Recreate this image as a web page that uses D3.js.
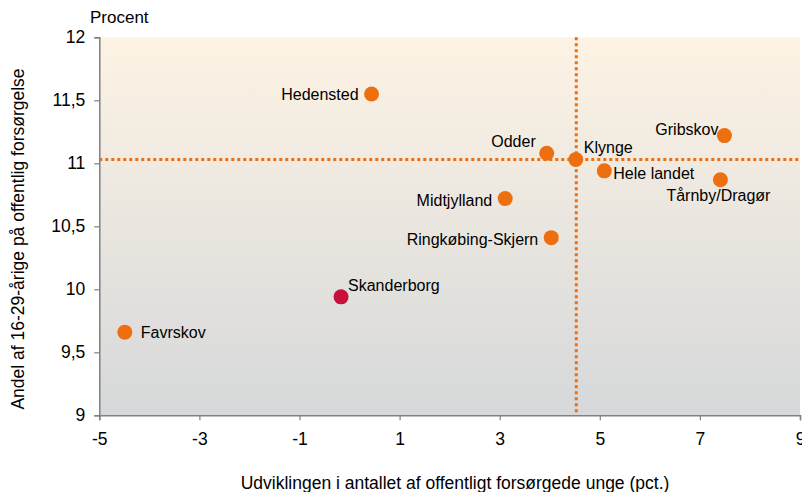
<!DOCTYPE html>
<html>
<head>
<meta charset="utf-8">
<script src="https://cdn.jsdelivr.net/npm/d3@7"></script>
<style>
  body { margin: 0; background: #fff; }
  svg text { font-family: Arial, "Liberation Sans", sans-serif; fill: #000; }
</style>
</head>
<body>
<svg id="chart" width="802" height="492"></svg>
<script>
// data
var names = ['Hedensted','Odder','Klynge','Hele landet','Gribskov','Tårnby/Dragør','Midtjylland','Ringkøbing-Skjern','Skanderborg','Favrskov'];
var xVals = [0.44, 3.94, 4.52, 5.09, 7.49, 7.41, 3.11, 4.03, -0.17, -4.49];
var yVals = [11.55, 11.08, 11.03, 10.94, 11.22, 10.87, 10.72, 10.41, 9.94, 9.66];
var highlight = ['Skanderborg'];
var refX = 4.53, refY = 11.03;
var xTicks = [-5, -3, -1, 1, 3, 5, 7, 9];
var yTicks = [9, 9.5, 10, 10.5, 11, 11.5, 12];

// label placement: [anchor, dx, dy]
var labelPos = {
  'Hedensted': ['end', -13, 6],
  'Odder': ['end', -11, -6],
  'Klynge': ['start', 8, -7],
  'Hele landet': ['start', 9, 8],
  'Gribskov': ['end', -6, -1],
  'Tårnby/Dragør': ['middle', -2, 21],
  'Midtjylland': ['end', -13, 7],
  'Ringkøbing-Skjern': ['end', -13, 7],
  'Skanderborg': ['start', 7, -6],
  'Favrskov': ['start', 16, 6]
};

var svg = d3.select('#chart');
var margin = {left: 99.3, top: 37.3, right: 800, bottom: 415.3};

var x = d3.scaleLinear().domain([-5, 9]).range([margin.left, margin.right]);
var y = d3.scaleLinear().domain([9, 12]).range([margin.bottom, margin.top]);

var defs = svg.append('defs');
var grad = defs.append('linearGradient').attr('id','bg').attr('x1',0).attr('y1',0).attr('x2',0).attr('y2',1);
grad.append('stop').attr('offset','0%').attr('stop-color','#fdf3e4');
grad.append('stop').attr('offset','100%').attr('stop-color','#d6d8da');

svg.append('rect')
  .attr('x', x(-5)).attr('y', y(12))
  .attr('width', x(9) - x(-5)).attr('height', y(9) - y(12))
  .attr('fill', 'url(#bg)');

// reference lines
svg.append('line')
  .attr('x1', x(-5)).attr('x2', x(9))
  .attr('y1', y(refY)).attr('y2', y(refY))
  .attr('stroke', '#ee6f0f').attr('stroke-width', 3).attr('stroke-dasharray', '3,3');
svg.append('line')
  .attr('x1', x(refX)).attr('x2', x(refX))
  .attr('y1', y(12)).attr('y2', y(9))
  .attr('stroke', '#ee6f0f').attr('stroke-width', 3).attr('stroke-dasharray', '3,3');

// axes
var xAxis = svg.append('g').attr('transform', 'translate(0,' + y(9) + ')')
  .call(d3.axisBottom(x).tickValues(xTicks).tickSize(5).tickPadding(12).tickFormat(d3.format('d')));
var yAxis = svg.append('g').attr('transform', 'translate(' + x(-5) + ',0)')
  .call(d3.axisLeft(y).tickValues(yTicks).tickSize(5).tickPadding(9)
    .tickFormat(function(d){ return String(d).replace('.', ','); }));

[xAxis, yAxis].forEach(function(a){
  a.select('.domain').attr('stroke', '#808080').attr('stroke-width', 1.5);
  a.selectAll('.tick line').attr('stroke', '#808080').attr('stroke-width', 1.2);
  a.selectAll('.tick text').attr('font-size', 17.5).attr('font-family', 'Arial, "Liberation Sans", sans-serif').attr('fill', '#000');
});
xAxis.selectAll('.tick text').text(function(d){ return d < 0 ? '-' + Math.abs(d) : d; });

// points
var pts = names.map(function(n, i){ return {name: n, x: xVals[i], y: yVals[i]}; });

svg.selectAll('circle.pt').data(pts).enter().append('circle')
  .attr('class', 'pt')
  .attr('cx', function(d){ return x(d.x); })
  .attr('cy', function(d){ return y(d.y); })
  .attr('r', 7.5)
  .attr('fill', function(d){ return highlight.indexOf(d.name) > -1 ? '#c8103c' : '#ee6f0f'; });

svg.selectAll('text.lbl').data(pts).enter().append('text')
  .attr('class', 'lbl')
  .attr('x', function(d){ return x(d.x) + labelPos[d.name][1]; })
  .attr('y', function(d){ return y(d.y) + labelPos[d.name][2]; })
  .attr('text-anchor', function(d){ return labelPos[d.name][0]; })
  .attr('font-size', 16)
  .text(function(d){ return d.name; });

// titles
svg.append('text').attr('x', 90).attr('y', 23).attr('font-size', 17).text('Procent');
svg.append('text')
  .attr('transform', 'translate(24,239) rotate(-90)')
  .attr('text-anchor', 'middle').attr('font-size', 17.5)
  .text('Andel af 16-29-årige på offentlig forsørgelse');
svg.append('text')
  .attr('x', 455).attr('y', 489).attr('text-anchor', 'middle').attr('font-size', 17.5)
  .text('Udviklingen i antallet af offentligt forsørgede unge (pct.)');
</script>
</body>
</html>
